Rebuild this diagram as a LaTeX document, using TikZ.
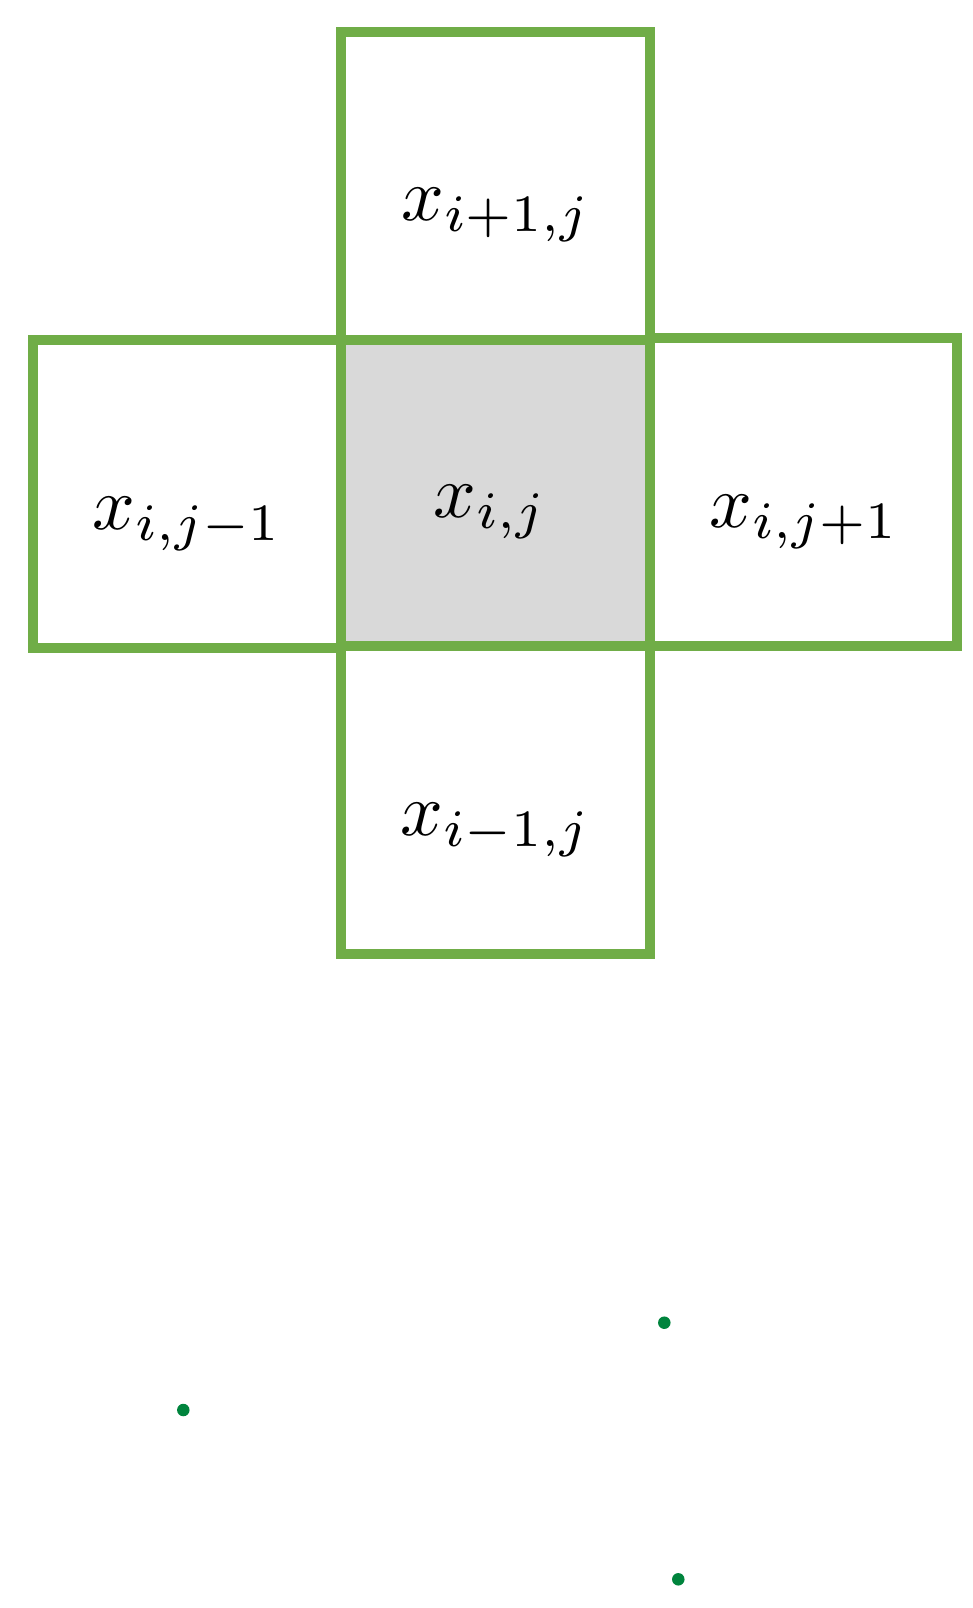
\documentclass[tikz,border=0pt]{standalone}
\definecolor{boxgreen}{RGB}{112,173,71}
\definecolor{cellgray}{RGB}{217,217,217}
\definecolor{dotgreen}{RGB}{0,132,61}
\tikzset{
  cell/.style={draw=boxgreen, line width=10pt, rectangle, inner sep=0pt, outer sep=0pt},
  lbl/.style={anchor=base, inner sep=0pt, scale=7.5, transform shape},
  gdot/.style={circle, fill=dotgreen, inner sep=0pt, minimum size=12.5pt}
}
\begin{document}
\begin{tikzpicture}[x=1pt,y=-1pt]
\useasboundingbox (0,0) rectangle (973,1608);
% boxes
\node[cell, fill=cellgray, minimum width=308.5pt, minimum height=305.5pt] (c) at (495.25,492.75) {};
\node[cell, minimum width=308.5pt, minimum height=307.7pt] (t) at (495.25,185.85) {};
\node[cell, minimum width=308pt, minimum height=307.7pt] (l) at (187,493.85) {};
\node[cell, minimum width=307.5pt, minimum height=307.5pt] (r) at (803.25,491.75) {};
\node[cell, minimum width=308.5pt, minimum height=308pt] (b) at (495.25,799.5) {};
% labels
\node[lbl] (tl) at (496,220) {$x_{i+1,j}$};
\node[lbl] (ll) at (187.5,529) {$x_{i,j-1}$};
\node[lbl] (cl) at (490,517) {$x_{i,j}$};
\node[lbl] (rl) at (804,527) {$x_{i,j+1}$};
\node[lbl] (bl) at (496,835) {$x_{i-1,j}$};
% dots
\node[gdot] (d1) at (664.3,1322.7) {};
\node[gdot] (d2) at (183.3,1410) {};
\node[gdot] (d3) at (678.3,1579.3) {};
\end{tikzpicture}
\end{document}
